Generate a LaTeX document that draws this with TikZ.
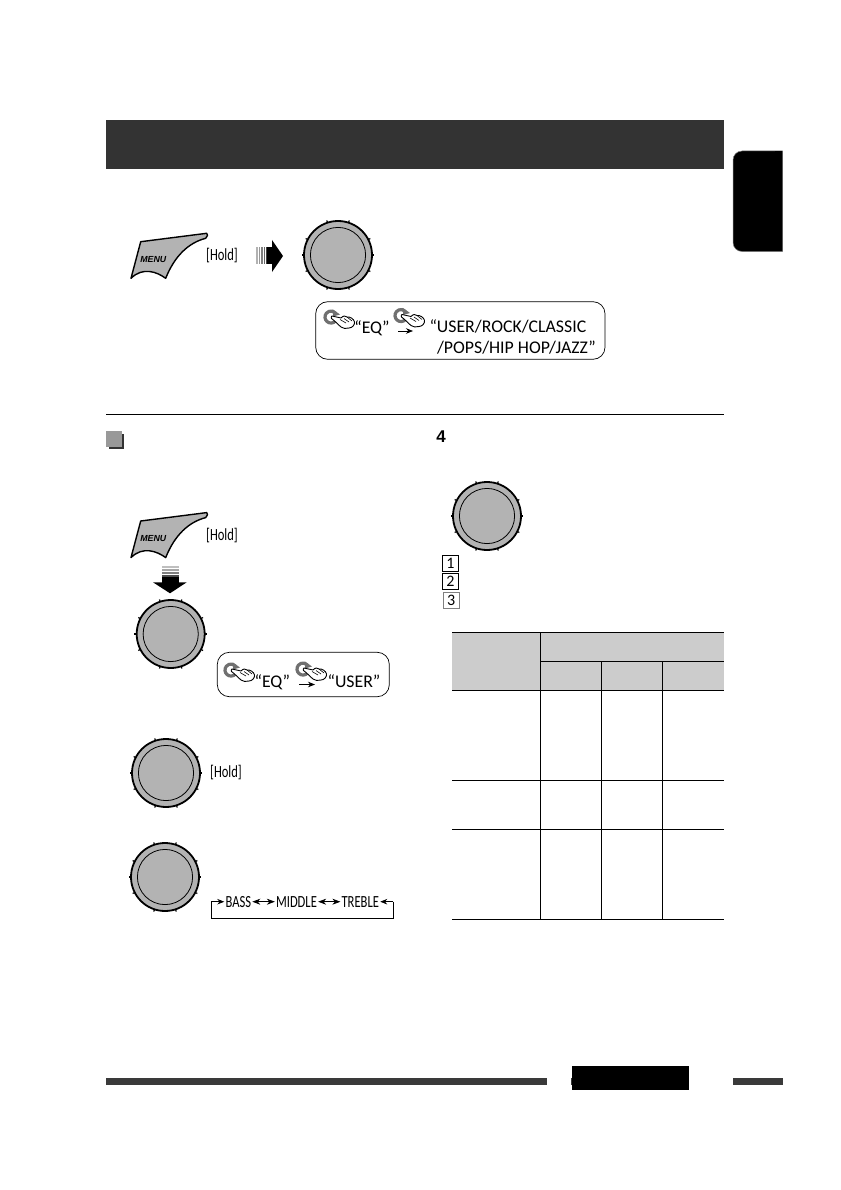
\documentclass[tikz,border=0pt]{standalone}
\usepackage{fontspec}
\setmainfont{Carlito}
\newfontfamily\armfont{Liberation Sans}
\usetikzlibrary{calc,arrows.meta,positioning}
\definecolor{DGray}{HTML}{333333}
\definecolor{BarGray}{HTML}{3A3A3A}
\definecolor{KnobGray}{HTML}{B3B3B3}
\definecolor{HeadGray}{HTML}{CCCCCC}
\definecolor{IconGray}{HTML}{707070}
\tikzset{
    label/.style={inner sep=0pt, font=\fontsize{17.8}{19}\selectfont},
    narrow/.style={inner sep=1.5pt, font=\fontsize{17}{17}\selectfont, xscale=.74},
    flowtip/.style={line width=.7pt, -{Stealth[length=7pt, width=5.5pt]}},
    flowboth/.style={line width=.7pt, {Stealth[length=8pt, width=6pt]}-{Stealth[length=8pt, width=6pt]}},
    callout/.style={draw, line width=.7pt, rounded corners=12pt},
    numbox/.style={draw, line width=.7pt, minimum size=16pt, inner sep=0pt, font=\fontsize{16}{16}\selectfont},
    rule/.style={line width=1.2pt}
}
\NewDocumentCommand{\Knob}{O{(0,0)}}{
    \begin{scope}[shift={#1}]
    \foreach \ang in {0,27,72,108,153,180,207,252,288,333}
        \draw[line width=1.2pt] (\ang:34) -- (\ang:36.3);
    \draw[line width=1.8pt, fill=KnobGray] (0,0) circle (34);
    \draw[line width=.8pt] (0,0) circle (27.6);
    \end{scope}
}
\NewDocumentCommand{\MenuKey}{O{(0,0)}}{
    \begin{scope}[shift={#1}]
    \draw[line width=1.4pt, line join=round, fill=KnobGray] (0,0) -- (66,-8.4)
        .. controls (67.5,-8) and (67,-5) .. (65,-3.4)
        .. controls (48,1) and (34,14) .. (25,36.6)
        .. controls (16,30) and (2,25) .. (-9.7,36.6) -- cycle;
    \node[inner sep=0pt, font=\armfont\bfseries\itshape\fontsize{8.8}{8.8}\selectfont] at (12.6,17.6) {MENU};
    \end{scope}
}
\NewDocumentCommand{\HandIcon}{O{(0,0)}}{
    \begin{scope}[shift={#1}]
    \draw[IconGray, line width=3.2pt] (10.6,10.9) arc (40:320:6);
    \fill[IconGray] (8,-.5) -- (15,4.5) -- (8,6.5) -- cycle;
    \draw[line width=.9pt, fill=white, line join=round] (7,6)
        .. controls (10,6.5) and (13,7.5) .. (16,8)
        .. controls (18,5.5) and (21,5.5) .. (22,7)
        .. controls (25,6.5) and (29,9) .. (29.5,12)
        .. controls (30,15) and (27,18) .. (24,18)
        .. controls (21,19) and (18,18.5) .. (16,17)
        .. controls (13,14.5) and (10,11) .. (6.5,8.5)
        .. controls (6,7.5) and (6,6.5) .. (7,6) -- cycle;
    \draw[line width=.6pt] (15,9.5) -- (21,13) (19,8.5) -- (24,12) (22,7) -- (27,11);
    \end{scope}
}

\begin{document}
\begin{tikzpicture}[x=1pt, y=-1pt]
\useasboundingbox (0,0) rectangle (840,1190);

% header and tab
\fill[DGray] (106,120) rectangle (724,169);
\draw[gray, line width=.5pt, fill=black, rounded corners=9pt] (782.5,151) -- (733,151) -- (733,251.5) -- (782.5,251.5);
\fill[black] (775,151.3) rectangle (782.3,251.2);

% top group
\MenuKey[(140.7,241.7)]
\node[narrow] (hold-top) at (222,256) {[Hold]};
\foreach \x/\c in {256/30,258.5/40,261/50,263.5/60,266/75}
    \fill[black!\c] (\x,247.3) rectangle ++(1.7,17);
\fill[black] (267,247.3) rectangle (272,264.3);
\fill[black] (272,240) -- (283,256) -- (272,272) -- cycle;
\Knob[(338,255)]

\draw[callout] (315.7,301.7) rectangle (605,359.3);
\HandIcon[(325,310)]
\HandIcon[(395,308.5)]
\coordinate (eq-from) at (398,331);
\coordinate (eq-to) at (413,331);
\draw[flowtip] (eq-from) -- (eq-to);
\node[label, anchor=base] (eq-top) at (372,333) {“EQ”};
\node[label, anchor=base west] (modes-a) at (429.3,332) {“USER/ROCK/CLASSIC};
\node[label, anchor=base east] (modes-b) at (596,353) {/POPS/HIP HOP/JAZZ”};

\draw[black, line width=.8pt] (106,414.3) -- (724,414.3);

% left column
\fill[black!80] (108.5,433.5) rectangle (124,449);
\fill[black!40] (106,431) rectangle (121.7,446.7);

\MenuKey[(140.7,521)]
\node[narrow] (hold-left) at (222,535.7) {[Hold]};
\foreach \y/\c in {566/25,569/35,572/50,575/70}
    \fill[black!\c] (162,\y) rectangle ++(17.3,1.8);
\fill[black] (162,576.7) rectangle (179.3,582.5);
\fill[black] (153,582.3) -- (186.7,582.3) -- (170,593.3) -- cycle;
\Knob[(170.7,634)]

\draw[callout] (217.3,652.3) rectangle (389.3,696.7);
\HandIcon[(225,663)]
\HandIcon[(297,662)]
\coordinate (user-from) at (299,684.5);
\coordinate (user-to) at (315,684.5);
\draw[flowtip] (user-from) -- (user-to);
\node[label, anchor=base] (eq-left) at (272.3,687) {“EQ”};
\node[label, anchor=base] (user) at (354,687) {“USER”};

\Knob[(166,773)]
\node[narrow] (hold-low) at (226,773) {[Hold]};
\Knob[(165,877)]

\node[narrow] (bass) at (238.3,901.7) {BASS};
\node[narrow] (middle) at (296.5,901.7) {MIDDLE};
\node[narrow] (treble) at (360.3,901.7) {TREBLE};
\coordinate (loop-left) at (211.3,901.7);
\coordinate (loop-right) at (393.3,901.7);
\coordinate (loop-bl) at (211.3,918.3);
\coordinate (loop-br) at (393.3,918.3);
\draw[flowboth] (bass) -- (middle);
\draw[flowboth] (middle) -- (treble);
\draw[line width=.7pt] (loop-left) -- (loop-bl) -- (loop-br) -- (loop-right);
\draw[flowtip] (loop-left) -- (bass);
\draw[flowtip] (loop-right) -- (treble);

% right column
\node[inner sep=0pt, font=\armfont\bfseries\fontsize{17}{17}\selectfont] (step-four) at (441,437) {4};
\Knob[(487,516)]
\node[numbox] (num-a) at (450.5,563.7) {1};
\node[numbox] (num-b) at (450.5,581.3) {2};
\node[numbox, draw=gray] (num-c) at (451.2,600.5) {3};

% table
\fill[HeadGray] (452,632.3) rectangle (724,690.3);
\foreach \y in {632.3,690.3,780.3,829.3,919.3}
    \draw[rule] (452,\y) -- (724,\y);
\draw[rule] (540.3,661.3) -- (724,661.3);
\draw[rule] (540.3,632.3) -- (540.3,919.3);
\foreach \x in {601.3,662.3}
    \draw[rule] (\x,661.3) -- (\x,919.3);

% footer
\fill[BarGray] (106,1078.3) rectangle (547,1085.3);
\fill[BarGray] (570.7,1078.3) rectangle (573,1085.3);
\fill[black] (572,1066) rectangle (689,1090);
\fill[BarGray] (733,1078.3) rectangle (782.7,1085.3);

\end{tikzpicture}
\end{document}
